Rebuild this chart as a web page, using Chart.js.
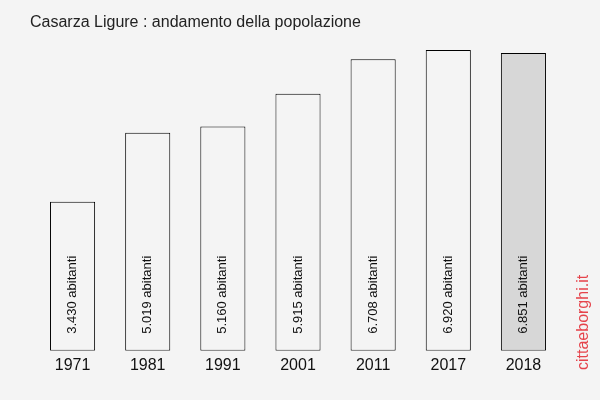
<!DOCTYPE html>
<html>
<head>
<meta charset="utf-8">
<script src="https://cdn.jsdelivr.net/npm/chart.js@4/dist/chart.umd.min.js"></script>
<style>
  html, body { margin: 0; padding: 0; background: #f4f4f4; }
  #wrap { width: 600px; height: 400px; }
</style>
</head>
<body>
<div id="wrap"><canvas id="chart" width="600" height="400"></canvas></div>
<script>
const years = ["1971", "1981", "1991", "2001", "2011", "2017", "2018"];
const population = [3430, 5019, 5160, 5915, 6708, 6920, 6851];
const valueLabels = ["3.430 abitanti", "5.019 abitanti", "5.160 abitanti", "5.915 abitanti",
  "6.708 abitanti", "6.920 abitanti", "6.851 abitanti"];
const barColors = ["#f4f4f4", "#f4f4f4", "#f4f4f4", "#f4f4f4", "#f4f4f4", "#f4f4f4", "#d7d7d7"];
const title = "Casarza Ligure : andamento della popolazione";
const watermark = "cittaeborghi.it";

const FONT = "'Liberation Sans', Arial, sans-serif";

// background, title, in-bar labels and the vertical site name
const decorations = {
  id: "decorations",
  beforeDraw(chart) {
    const ctx = chart.ctx;
    ctx.save();
    ctx.fillStyle = "#f4f4f4";
    ctx.fillRect(0, 0, chart.width, chart.height);
    ctx.restore();
  },
  afterDatasetsDraw(chart) {
    const ctx = chart.ctx;
    const bottom = chart.scales.y.getPixelForValue(0);
    ctx.save();
    ctx.fillStyle = "#222";
    ctx.font = `16px ${FONT}`;
    ctx.textBaseline = "middle";
    ctx.textAlign = "left";
    ctx.fillText(title, 30, 23);

    ctx.font = `13px ${FONT}`;
    ctx.fillStyle = "#111";
    chart.getDatasetMeta(0).data.forEach((bar, i) => {
      ctx.save();
      ctx.translate(bar.x, bottom - 17);
      ctx.rotate(-Math.PI / 2);
      ctx.textAlign = "left";
      ctx.textBaseline = "middle";
      ctx.fillText(valueLabels[i], 0, 0);
      ctx.restore();
    });

    ctx.font = `16px ${FONT}`;
    ctx.fillStyle = "#e5434b";
    ctx.translate(584, 370);
    ctx.rotate(-Math.PI / 2);
    ctx.textAlign = "left";
    ctx.textBaseline = "middle";
    ctx.fillText(watermark, 0, 0);
    ctx.restore();
  },
};

new Chart(document.getElementById("chart"), {
  type: "bar",
  data: {
    labels: years,
    datasets: [{
      data: population,
      backgroundColor: barColors,
      borderColor: "#000",
      borderWidth: 1,
      borderSkipped: false,
      barPercentage: 0.6,
      categoryPercentage: 1,
    }],
  },
  options: {
    responsive: false,
    animation: false,
    layout: { padding: { left: 35, right: 39, top: 50, bottom: 20 } },
    scales: {
      x: {
        grid: { display: false, drawTicks: false },
        border: { display: false },
        ticks: { color: "#111", font: { family: FONT, size: 16 }, padding: 5 },
      },
      y: {
        display: false,
        min: 0,
        max: 6920,
      },
    },
    plugins: { legend: { display: false }, tooltip: { enabled: false } },
  },
  plugins: [decorations],
});
</script>
</body>
</html>
